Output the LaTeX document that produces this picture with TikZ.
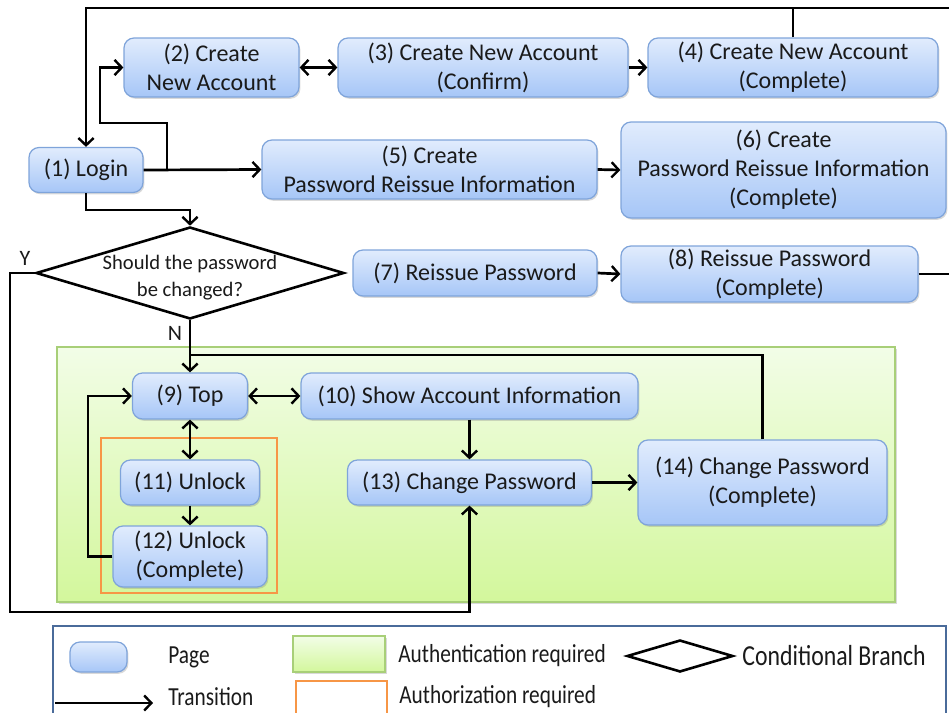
\documentclass[tikz,border=0pt]{standalone}
\usepackage{fontspec}
\setmainfont{Carlito}
\newfontfamily\legendfont[FakeStretch=0.82]{Carlito}
\usetikzlibrary{arrows.meta,shapes.geometric,shadows}
\definecolor{PageTop}{HTML}{E1ECFD}
\definecolor{PageBot}{HTML}{A6C6F7}
\definecolor{PageLine}{HTML}{7FA4DA}
\definecolor{AuthTop}{HTML}{F2FDE7}
\definecolor{AuthBot}{HTML}{D3F79C}
\definecolor{AuthLine}{HTML}{A8CF78}
\definecolor{RoleOrange}{HTML}{F79646}
\definecolor{LegendLine}{HTML}{4A6B9A}
\definecolor{Ink}{HTML}{1A1A1A}

\tikzset{
  pagebox/.style={rectangle,rounded corners=5pt,draw=PageLine,line width=0.6pt,
    top color=PageTop,bottom color=PageBot,text=Ink,align=center,inner sep=0pt,
    font=\fontsize{12}{14.5}\selectfont,
    drop shadow={shadow xshift=0.7pt,shadow yshift=-0.9pt,opacity=0.3}},
  authbox/.style={rectangle,draw=AuthLine,line width=0.6pt,inner sep=0pt,
    top color=AuthTop,bottom color=AuthBot,
    drop shadow={shadow xshift=0.8pt,shadow yshift=-0.9pt,opacity=0.3}},
  rolebox/.style={rectangle,draw=RoleOrange,line width=1.2pt,inner sep=0pt},
  decision/.style={diamond,draw=black,line width=1.3pt,fill=white,inner sep=0pt},
  line/.style={line width=1.35pt},
  flow/.style={line,-{Straight Barb[length=3.6pt,width=7.6pt,line width=1.2pt]}},
  flowboth/.style={line,{Straight Barb[length=3.6pt,width=7.6pt,line width=1.2pt]}-{Straight Barb[length=3.6pt,width=7.6pt,line width=1.2pt]}},
  yn/.style={text=Ink,font=\fontsize{11}{13}\selectfont},
  legtext/.style={anchor=west,text=Ink,inner sep=0pt,font=\legendfont\fontsize{13}{15}\selectfont}
}

\begin{document}
\begin{tikzpicture}[x=0.5pt,y=-0.5pt]
  \useasboundingbox (0,0) rectangle (949,713);

  % areas
  \node[authbox,minimum width=419pt,minimum height=127.5pt] (authzone) at (476,474.5) {};
  \node[rolebox,minimum width=88pt,minimum height=77.5pt] (rolezone) at (189,515.5) {};

  % pages
  \node[pagebox,minimum width=57pt,minimum height=22.5pt] (p1) at (86,170) {(1) Login};
  \node[pagebox,minimum width=87.5pt,minimum height=29.5pt] (p2) at (211.5,67.5) {(2) Create\\New Account};
  \node[pagebox,minimum width=145pt,minimum height=29.5pt] (p3) at (483,67.5) {(3) Create New Account\\(Confirm)};
  \node[pagebox,minimum width=145pt,minimum height=29.5pt] (p4) at (793,67.5) {(4) Create New Account\\(Complete)};
  \node[pagebox,minimum width=167.5pt,minimum height=29.5pt] (p5) at (429.5,169.5) {(5) Create\\Password Reissue Information};
  \node[pagebox,minimum width=162.5pt,minimum height=48pt] (p6) at (783.5,170) {(6) Create\\Password Reissue Information\\(Complete)};
  \node[pagebox,minimum width=122pt,minimum height=23pt] (p7) at (475,273) {(7) Reissue Password};
  \node[pagebox,minimum width=148.5pt,minimum height=28pt] (p8) at (769.5,274) {(8) Reissue Password\\(Complete)};
  \node[pagebox,minimum width=57.5pt,minimum height=23pt] (p9) at (190,396) {(9) Top};
  \node[pagebox,minimum width=168.5pt,minimum height=23pt] (p10) at (469.5,396) {(10) Show Account Information};
  \node[pagebox,minimum width=69.5pt,minimum height=22.5pt] (p11) at (190,482.5) {(11) Unlock};
  \node[pagebox,minimum width=77pt,minimum height=30.5pt] (p12) at (190,556.5) {(12) Unlock\\(Complete)};
  \node[pagebox,minimum width=122pt,minimum height=22.5pt] (p13) at (469.5,482.5) {(13) Change Password};
  \node[pagebox,minimum width=124.5pt,minimum height=42.5pt] (p14) at (762.5,482.5) {(14) Change Password\\(Complete)};

  % branch
  \node[decision,minimum width=154pt,minimum height=46pt] (q) at (190,273) {};
  \node[text=Ink,align=center,font=\fontsize{10.3}{13.5}\selectfont] (qtext) at (190,278) {Should the password\\be changed?};
  \node[yn] (ylab) at (25,258) {Y};
  \node[yn] (nlab) at (175,333) {N};

  % helper points
  \coordinate (topR) at (962,8);
  \coordinate (j1) at (167,170);
  \coordinate (j2) at (100,123);
  \coordinate (j3) at (86,210);
  \coordinate (yl) at (10,612);
  \coordinate (nj) at (190,355);
  \coordinate (lj) at (88,556.5);

  % transitions
  \draw[flow] (p8.east) -| (topR) -| (p1.north);
  \draw[line] (p4.north) -- (p4.north |- topR);
  \draw[flow] (p1.east) -- (p5.west);
  \draw[flow] (j1) |- (j2) |- (p2.west);
  \draw[flow] (p1.south) -- (j3) -| (q.north);
  \draw[flowboth] (p2.east) -- (p3.west);
  \draw[flow] (p3.east) -- (p4.west);
  \draw[flow] (p5.east) -- (p6.west);
  \draw[flow] (p7.east) -- (p8.west);
  \draw[flow] (q.west) -| (yl) -| (p13.south);
  \draw[flow] (q.south) -- (p9.north);
  \draw[line] (p14.north) |- (nj);
  \draw[flowboth] (p9.east) -- (p10.west);
  \draw[flowboth] (p9.south) -- (p11.north);
  \draw[flow] (p11.south) -- (p12.north);
  \draw[flow] (p12.west) -- (lj) |- (p9.west);
  \draw[flow] (p10.south) -- (p13.north);
  \draw[flow] (p13.east) -- (p14.west);

  % legend
  \draw[LegendLine,line width=1pt] (53,626) rectangle (946,730);
  \node[pagebox,minimum width=28.5pt,minimum height=15pt] (lgpage) at (98.5,657) {};
  \node[legtext] (lgpagetxt) at (168,657) {Page};
  \node[authbox,minimum width=46pt,minimum height=18pt] (lgauth) at (339,654) {};
  \node[legtext] (lgauthtxt) at (398,656) {Authentication required};
  \node[decision,minimum width=53pt,minimum height=16pt] (lgq) at (680,656) {};
  \node[legtext,font=\legendfont\fontsize{14.5}{16}\selectfont] (lgqtxt) at (742,656) {Conditional Branch};
  \coordinate (lgtrA) at (55,703);
  \coordinate (lgtrB) at (153,703);
  \draw[flow] (lgtrA) -- (lgtrB);
  \node[legtext] (lgtrtxt) at (168,697) {Transition};
  \node[rolebox,minimum width=45.5pt,minimum height=18pt] (lgrole) at (341.5,699) {};
  \node[legtext] (lgroletxt) at (399,697) {Authorization required};
\end{tikzpicture}
\end{document}
